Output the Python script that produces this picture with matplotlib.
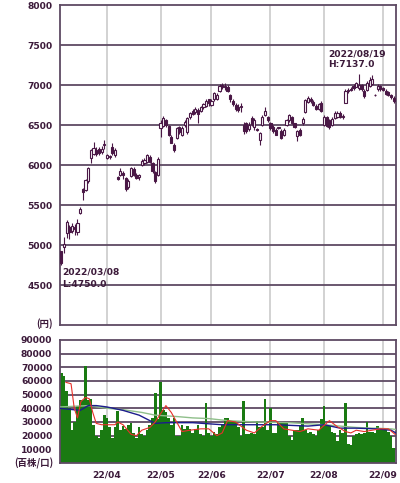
import matplotlib
matplotlib.use('Agg')
import matplotlib.pyplot as plt
import pandas as pd

# ---------------- data ----------------
holidays = ['2022-03-21', '2022-04-29', '2022-05-03', '2022-05-04', '2022-05-05',
            '2022-07-18', '2022-08-11']
days = [d for d in pd.bdate_range('2022-03-08', '2022-09-07')
        if d.strftime('%Y-%m-%d') not in holidays]

opens = [4920, 4980, 5150, 5220, 5180, 5230, 5160, 5400, 5700, 5690,
         5800, 6090, 6140, 6190, 6200, 6160, 6250, 6090, 6100, 6220,
         6130, 5850, 5880, 5900, 5840, 5720, 5860, 5950, 5880, 5850,
         6000, 6030, 6040, 6100, 6030, 5910, 5880, 6460, 6490, 6560,
         6490, 6350, 6250, 6340, 6470, 6380, 6500, 6410, 6600, 6680,
         6660, 6690, 6680, 6720, 6740, 6820, 6750, 6820, 6830, 6920,
         7000, 6990, 6980, 6880, 6800, 6750, 6730, 6720, 6500, 6520,
         6450, 6590, 6480, 6450, 6310, 6500, 6620, 6600, 6520, 6480,
         6440, 6460, 6430, 6380, 6500, 6560, 6600, 6520, 6360, 6440,
         6520, 6660, 6790, 6830, 6790, 6740, 6700, 6780, 6500, 6600,
         6560, 6500, 6590, 6600, 6650, 6600, 6780, 6920, 6950, 6990,
         6980, 6960, 7000, 6930, 6940, 6990, 7010, 6880, 6950, 6990,
         6960, 6930, 6910, 6870, 6840]
highs = [4930, 5100, 5310, 5250, 5280, 5260, 5320, 5470, 5710, 5830,
         5980, 6200, 6290, 6220, 6230, 6240, 6310, 6140, 6130, 6280,
         6210, 5860, 5960, 5920, 5850, 5830, 5980, 5970, 5900, 5890,
         6070, 6090, 6140, 6120, 6040, 5930, 6100, 6560, 6610, 6580,
         6500, 6370, 6270, 6480, 6490, 6490, 6560, 6600, 6660, 6700,
         6730, 6710, 6740, 6780, 6820, 6830, 6820, 6910, 6900, 7010,
         7030, 7020, 7000, 6890, 6830, 6780, 6760, 6780, 6540, 6540,
         6540, 6610, 6590, 6460, 6410, 6620, 6720, 6610, 6540, 6500,
         6460, 6480, 6450, 6460, 6580, 6640, 6610, 6530, 6440, 6460,
         6600, 6830, 6860, 6850, 6810, 6760, 6780, 6800, 6620, 6610,
         6570, 6600, 6680, 6670, 6670, 6640, 6950, 6960, 6970, 7010,
         7040, 7137, 7010, 6950, 7050, 7100, 7125, 6890, 7010, 7000,
         6980, 6950, 6930, 6890, 6860]
lows = [4750, 4900, 5090, 5080, 5150, 5130, 5130, 5390, 5560, 5680,
        5780, 6020, 6120, 6110, 6130, 6140, 6200, 6080, 6080, 6120,
        6100, 5810, 5860, 5830, 5680, 5700, 5850, 5860, 5820, 5810,
        5990, 6000, 6030, 6020, 5900, 5770, 5860, 6350, 6470, 6470,
        6360, 6270, 6160, 6320, 6390, 6360, 6480, 6390, 6580, 6620,
        6640, 6520, 6660, 6700, 6730, 6740, 6740, 6800, 6810, 6910,
        6950, 6940, 6910, 6790, 6740, 6680, 6660, 6660, 6390, 6400,
        6420, 6490, 6440, 6420, 6250, 6490, 6610, 6540, 6440, 6400,
        6370, 6450, 6330, 6360, 6490, 6540, 6510, 6460, 6300, 6360,
        6500, 6650, 6770, 6780, 6740, 6690, 6690, 6660, 6490, 6470,
        6450, 6490, 6580, 6590, 6590, 6580, 6770, 6900, 6920, 6940,
        6970, 6940, 6930, 6840, 6930, 6980, 7000, 6860, 6930, 6930,
        6920, 6880, 6860, 6830, 6780]
closes = [4780, 5010, 5290, 5160, 5240, 5200, 5270, 5450, 5660, 5810,
          5960, 6190, 6210, 6140, 6150, 6200, 6260, 6120, 6110, 6150,
          6190, 5830, 5920, 5870, 5700, 5800, 5960, 5880, 5840, 5870,
          6050, 6060, 6120, 6040, 5920, 5800, 6080, 6520, 6590, 6500,
          6380, 6280, 6190, 6460, 6410, 6460, 6540, 6590, 6650, 6640,
          6700, 6640, 6720, 6760, 6800, 6770, 6800, 6900, 6880, 6990,
          6980, 6970, 6930, 6820, 6760, 6700, 6690, 6740, 6420, 6430,
          6500, 6510, 6560, 6440, 6400, 6600, 6680, 6560, 6460, 6420,
          6380, 6470, 6340, 6440, 6560, 6620, 6530, 6480, 6420, 6380,
          6580, 6810, 6840, 6800, 6750, 6700, 6760, 6680, 6600, 6490,
          6470, 6580, 6650, 6650, 6600, 6610, 6930, 6940, 6940, 6960,
          7020, 7000, 6950, 6860, 7030, 7060, 7080, 6870, 6990, 6950,
          6940, 6890, 6880, 6850, 6800]
volumes = [66000, 64000, 53000, 40000, 24000, 30000, 42000, 46000, 46000, 71000,
           46000, 47000, 28000, 20000, 18000, 24000, 35000, 33000, 26000, 18000,
           26000, 38000, 24000, 27000, 25000, 28000, 29000, 22000, 18000, 26000,
           21000, 20000, 24000, 28000, 33000, 51000, 32000, 59000, 39000, 37000,
           33000, 28000, 33000, 20000, 20000, 28000, 25000, 27000, 25000, 22000,
           25000, 28000, 21000, 20000, 44000, 22000, 20000, 23000, 21000, 26000,
           28000, 33000, 33000, 31000, 31000, 30000, 26000, 20000, 45000, 21000,
           21000, 22000, 21000, 31000, 26000, 26000, 47000, 24000, 40000, 22000,
           22000, 30000, 30000, 29000, 30000, 20000, 17000, 24000, 24000, 27000,
           33000, 24000, 22000, 23000, 21000, 20000, 24000, 32000, 42000, 28000,
           28000, 23000, 22000, 16000, 24000, 22000, 44000, 14000, 13000, 20000,
           21000, 22000, 21000, 22000, 30000, 23000, 23000, 22000, 27000, 24000,
           24000, 24000, 23000, 20000, 11000]

ma_short_idx = [1.7, 3.6, 4.8, 6, 7.3, 9, 10.4, 11.7, 13, 15, 20, 21, 23, 26, 28, 30,
                33, 35, 37, 39, 41, 43, 45, 48, 52, 55, 58, 60, 62, 65, 67, 69, 72,
                75, 78, 80, 83, 86, 89, 92, 96, 100, 103, 106, 108, 110, 113, 116,
                119, 122, 124.5]
ma_short = [59000, 58000, 40000, 33000, 45000, 48000, 47000, 37000, 29000, 28000,
            28000, 30000, 28000, 21000, 20000, 24000, 26000, 30000, 36000, 42000,
            37000, 30000, 23000, 24000, 25000, 25000, 20000, 22000, 31000, 30000,
            27000, 24000, 22000, 27000, 31000, 31000, 25000, 24000, 23000, 25000,
            24000, 31000, 26500, 23000, 22000, 24000, 23000, 24000, 25000, 25000,
            21000]
ma_mid_idx = [-0.5, 7, 10, 13, 17, 23, 29, 33, 35, 39, 43, 49, 60, 70, 80, 92, 98,
              104, 110, 117, 123, 124.8]
ma_mid = [40000, 38500, 42000, 42000, 41000, 38500, 35000, 31000, 29000, 29500,
          29500, 29500, 28000, 28000, 28000, 27000, 28000, 25500, 25500, 25000,
          24000, 22000]
ma_long_idx = [-0.5, 10, 17, 23, 30, 35, 43, 49, 55, 62, 73, 85, 98, 110, 123, 124.8]
ma_long = [41000, 42000, 40000, 39000, 37000, 35000, 34000, 33000, 32500, 31000,
           30000, 29500, 28000, 26000, 25000, 24500]

price_ticks = [4500, 5000, 5500, 6000, 6500, 7000, 7500, 8000]
vol_ticks = [10000, 20000, 30000, 40000, 50000, 60000, 70000, 80000, 90000]
month_labels = ['22/04', '22/05', '22/06', '22/07', '22/08', '22/09']

# ---------------- style ----------------
DARK = '#3c1a3a'
GRID = '#5e4a63'
VGRID = '#cfcfcf'
UPFILL = '#ffffff'
DNFILL = '#4a1846'
GREEN = '#1a7a12'
FONT = dict(family=['DejaVu Sans'], fontweight='bold', fontsize=6.6, color=DARK)
JFONT = dict(family=['Noto Sans CJK JP', 'DejaVu Sans'], fontweight='bold',
             fontsize=6.8, color=DARK)

n = len(closes)
xs = list(range(n))
month_pos = []
for lab in month_labels:
    y, m = lab.split('/')
    for i, d in enumerate(days):
        if d.year == 2000 + int(y) and d.month == int(m):
            month_pos.append(i)
            break

fig = plt.figure(figsize=(4.0, 4.83), dpi=100)
ax = fig.add_axes([0.15, 0.3271, 0.84, 0.6625])
axv = fig.add_axes([0.15, 0.0414, 0.84, 0.2547])
XL = (-0.52, 124.85)

for a in (ax, axv):
    a.set_xlim(*XL)
    for s in a.spines.values():
        s.set_color(GRID)
        s.set_linewidth(1.3)
    a.tick_params(length=0, pad=5.5)
    for xv in month_pos:
        a.axvline(xv, color=VGRID, lw=1.3, zorder=0)

# price panel
ax.set_ylim(4000, 8000)
ax.set_yticks(price_ticks)
ax.set_yticklabels([str(t) for t in price_ticks], **FONT)
ax.set_xticks([])
for t in price_ticks[:-1]:
    ax.axhline(t, color=GRID, lw=1.3, zorder=1)

for i in xs:
    o, h, l, c = opens[i], highs[i], lows[i], closes[i]
    ax.vlines(i, l, h, color=DNFILL, lw=0.8, zorder=3)
    up = c >= o
    ax.bar(i, max(abs(c - o), 8), bottom=min(o, c), width=0.8,
           color=UPFILL if up else DNFILL, edgecolor=DNFILL, linewidth=0.8, zorder=4)

hi_i = highs.index(max(highs))
lo_i = lows.index(min(lows))
ax.text(99.5, 7390, days[hi_i].strftime('%Y/%m/%d'), ha='left', va='center', **FONT)
ax.text(99.5, 7255, 'H:%.1f' % max(highs), ha='left', va='center', **FONT)
ax.text(0.2, 4660, days[lo_i].strftime('%Y/%m/%d'), ha='left', va='center', **FONT)
ax.text(0.2, 4510, 'L:%.1f' % min(lows), ha='left', va='center', **FONT)
fig.text(0.133, 1 - 324 / 483, '(円)', ha='right', va='center', **JFONT)

# volume panel
axv.set_ylim(0, 90000)
axv.set_yticks(vol_ticks)
axv.set_yticklabels([str(t) for t in vol_ticks], **FONT)
for t in vol_ticks[:-1]:
    axv.axhline(t, color=GRID, lw=1.3, zorder=1)
axv.bar(xs, volumes, width=1.0, color=GREEN, linewidth=0, zorder=2)
axv.plot(ma_long_idx, ma_long, color='#8fbf8a', lw=1.0, zorder=3)
axv.plot(ma_mid_idx, ma_mid, color='#1c1c8c', lw=1.0, zorder=4)
axv.plot(ma_short_idx, ma_short, color='#e8302a', lw=0.8, zorder=5)
axv.set_xticks(month_pos)
axv.set_xticklabels(month_labels, **FONT)
fig.text(0.133, 1 - 463 / 483, '(百株/口)', ha='right', va='center', **JFONT)

fig.savefig('out.png', dpi=100, facecolor='white')
